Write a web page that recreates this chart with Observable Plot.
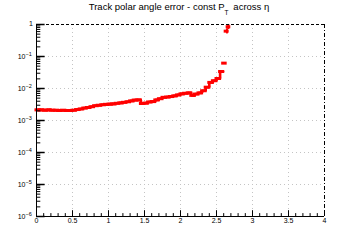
<!DOCTYPE html>
<html><head><meta charset="utf-8">
<script src="https://cdn.jsdelivr.net/npm/d3@7"></script>
<script src="https://cdn.jsdelivr.net/npm/@observablehq/plot@0.6"></script>
<style>body{margin:0;background:#fff}svg{display:block}</style>
</head><body><div id="chart"></div>
<script>
// Data
const eta = [0.025,0.075,0.125,0.175,0.225,0.275,0.325,0.375,0.425,0.475,
  0.525,0.575,0.625,0.675,0.725,0.775,0.825,0.875,0.925,0.975,
  1.025,1.075,1.125,1.175,1.225,1.275,1.325,1.375,1.425,1.475,
  1.525,1.575,1.625,1.675,1.725,1.775,1.825,1.875,1.925,1.975,
  2.025,2.075,2.125,2.175,2.225,2.275,2.325,2.375,2.425,2.475,
  2.525,2.575,2.61,2.645,2.665];
const sigma = [2.15e-3,2.15e-3,2.1e-3,2.15e-3,2.1e-3,2.1e-3,2.05e-3,2.1e-3,2.05e-3,2.05e-3,
  2.1e-3,2.2e-3,2.3e-3,2.45e-3,2.55e-3,2.7e-3,2.9e-3,3.0e-3,3.1e-3,3.2e-3,
  3.25e-3,3.3e-3,3.45e-3,3.55e-3,3.7e-3,3.85e-3,4.1e-3,4.35e-3,4.4e-3,3.4e-3,
  3.5e-3,3.8e-3,3.9e-3,4.4e-3,4.8e-3,5.3e-3,5.4e-3,5.6e-3,5.9e-3,6.3e-3,
  6.8e-3,7.1e-3,7.3e-3,6.1e-3,6.7e-3,7.3e-3,8.5e-3,1.1e-2,1.55e-2,1.75e-2,
  2.05e-2,3.4e-2,6.2e-2,0.62,0.85];
const relErr = eta.map((e, i) => i >= 53 ? 0.18 : 0); // vertical bars only visible on last points
const xMajor = [0,0.5,1,1.5,2,2.5,3,3.5,4];
const xLabels = ["0","0.5","1","1.5","2","2.5","3","3.5","4"];
const xMinor = d3.range(0, 41).map(i => i / 10);
const yMajor = [1e-6,1e-5,1e-4,1e-3,1e-2,1e-1,1];
const yBase = ["10","10","10","10","10","10","1"];
const yExp = ["\u22126","\u22125","\u22124","\u22123","\u22122","\u22121",""];
const yMinor = [-6,-5,-4,-3,-2,-1].flatMap(k => [2,3,4,5,6,7,8,9].map(m => m * Math.pow(10, k)));

const pts = eta.map((e, i) => {
  const prev = i > 0 ? (e + eta[i-1]) / 2 : e - 0.025;
  const next = i < eta.length - 1 ? (e + eta[i+1]) / 2 : e + 0.0125;
  return {eta: e, v: sigma[i], x1: Math.max(prev, e - 0.025), x2: Math.min(next, e + 0.025), err: relErr[i]};
});
const contiguous = pts.slice(0, 52);

const font = "'Liberation Sans', Arial, Helvetica, sans-serif";
const plot = Plot.plot({
  width: 360, height: 240,
  marginLeft: 36, marginRight: 36, marginTop: 24, marginBottom: 24,
  style: {fontFamily: font, background: "#fff"},
  x: {domain: [0, 4], axis: null},
  y: {type: "log", domain: [1e-6, 1], axis: null},
  marks: [
    Plot.ruleX(xMajor.slice(1, -1), {x: d => d, stroke: "#c4c4c4", strokeDasharray: "1,3"}),
    Plot.ruleY(yMajor.slice(1, -1), {y: d => d, stroke: "#c4c4c4", strokeDasharray: "1,3"}),
    Plot.line(contiguous.flatMap(d => [{x: d.x1, v: d.v}, {x: d.x2, v: d.v}]), {x: "x", y: "v", stroke: "#ff0000", strokeWidth: 2.6, strokeLinejoin: "miter"}),
    Plot.ruleY(pts, {y: "v", x1: "x1", x2: "x2", stroke: "#ff0000", strokeWidth: 3, strokeLinecap: "square"}),
    Plot.ruleX(pts.filter(d => d.err > 0), {x: "eta", y1: d => d.v * (1 - d.err), y2: d => d.v * (1 + d.err), stroke: "#ff0000", strokeWidth: 2}),
    // frame
    Plot.ruleY([1], {y: d => d, stroke: "#000", strokeDasharray: "3,2"}),
    Plot.ruleX([4], {x: d => d, stroke: "#000", strokeDasharray: "4,2,1,2"}),
    Plot.ruleX([0], {x: d => d, stroke: "#000"}),
    Plot.ruleY([1e-6], {y: d => d, stroke: "#000"}),
    // x ticks (inward)
    Plot.ruleX(xMajor, {x: d => d, y1: d => 1e-6, y2: d => 1e-6, insetTop: -5.8, stroke: "#000"}),
    Plot.ruleX(xMinor, {x: d => d, y1: d => 1e-6, y2: d => 1e-6, insetTop: -2.9, stroke: "#000"}),
    // y ticks (inward)
    Plot.ruleY(yMajor, {y: d => d, x1: d => 0, x2: d => 0, insetRight: -8.6, stroke: "#000", strokeWidth: 1.5}),
    Plot.ruleY(yMinor, {y: d => d, x1: d => 0, x2: d => 0, insetRight: -4.3, stroke: "#000"}),
    // labels
    Plot.text(xMajor, {x: d => d, y: d => 1e-6, text: (d, i) => xLabels[i], lineAnchor: "top", dy: 2, fontSize: 7, fill: "#000"}),
    Plot.text(yMajor, {x: d => 0, y: d => d, text: (d, i) => yBase[i], textAnchor: "end", fontSize: 7, fill: "#000", filter: (d, i) => yExp[i] !== ""}),
    Plot.text(yMajor, {x: d => 0, y: d => d, text: (d, i) => yExp[i], textAnchor: "start", fontSize: 5.5, fill: "#000"})
  ]
});
document.getElementById("chart").appendChild(plot);

// post-process: position the y tick labels (base + superscript)
const svg = d3.select(plot);
const textGroups = svg.selectAll("g[aria-label='text']").nodes();
d3.select(textGroups[1]).selectAll("text").attr("dx", -11);
d3.select(textGroups[2]).selectAll("text").attr("dx", -11).attr("dy", -2.5);
svg.append("text").attr("x", 33).attr("y", 24).attr("dy", "0.32em")
  .attr("text-anchor", "end").attr("font-size", 7).attr("font-family", font).text("1");

// title with subscript
const title = svg.append("text").attr("x", 179).attr("y", 10)
  .attr("text-anchor", "middle").attr("font-size", 9.5).attr("font-family", font).attr("fill", "#000");
title.append("tspan").text("Track polar angle error - const P");
title.append("tspan").attr("dy", 5).attr("font-size", 6.5).text("T");
title.append("tspan").attr("dy", -5).text("\u2002across \u03b7");
</script>
</body></html>
